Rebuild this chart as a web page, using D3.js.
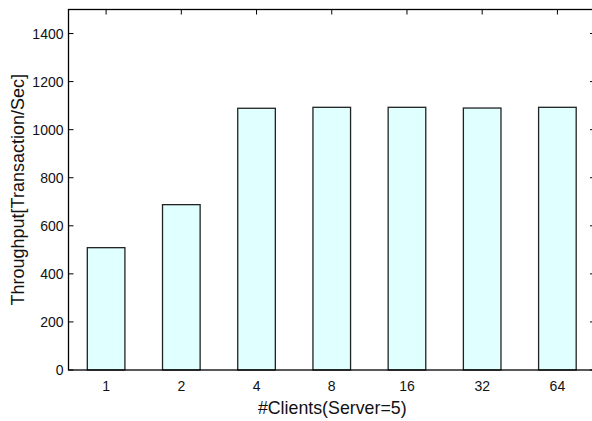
<!DOCTYPE html>
<html>
<head>
<meta charset="utf-8">
<script src="https://cdn.jsdelivr.net/npm/d3@7"></script>
<style>
  html, body { margin: 0; padding: 0; background: #fff; }
  svg { display: block; font-family: "Liberation Sans", Arial, Helvetica, sans-serif; }
</style>
</head>
<body>
<svg id="chart" width="592" height="421"></svg>
<script>
// Throughput measured for each client count (5 servers)
const clients = ["1", "2", "4", "8", "16", "32", "64"];
const throughput = [509, 688, 1089, 1093, 1093, 1090, 1093];
const yTicks = [0, 200, 400, 600, 800, 1000, 1200, 1400];

const svg = d3.select("#chart");
const plot = { left: 68.5, right: 595, top: 9.5, bottom: 370 };

const x = d3.scaleBand()
  .domain(clients)
  .range([plot.left, plot.right])
  .paddingInner(0.5)
  .paddingOuter(0.25);

const y = d3.scaleLinear()
  .domain([0, 1500])
  .range([plot.bottom, plot.top]);

const tickLen = 5;

// Inward ticks on all four sides
const g = svg.append("g");
g.selectAll("line.yl").data(yTicks).join("line")
  .attr("x1", plot.left).attr("x2", plot.left + tickLen)
  .attr("y1", d => y(d)).attr("y2", d => y(d))
  .attr("stroke", "#000").attr("stroke-width", 1);
g.selectAll("line.yr").data(yTicks).join("line")
  .attr("x1", plot.right).attr("x2", plot.right - tickLen)
  .attr("y1", d => y(d)).attr("y2", d => y(d))
  .attr("stroke", "#000").attr("stroke-width", 1);
g.selectAll("line.xt").data(clients).join("line")
  .attr("x1", d => x(d) + x.bandwidth() / 2).attr("x2", d => x(d) + x.bandwidth() / 2)
  .attr("y1", plot.top).attr("y2", plot.top + tickLen)
  .attr("stroke", "#000").attr("stroke-width", 1);
g.selectAll("line.xb").data(clients).join("line")
  .attr("x1", d => x(d) + x.bandwidth() / 2).attr("x2", d => x(d) + x.bandwidth() / 2)
  .attr("y1", plot.bottom).attr("y2", plot.bottom - tickLen)
  .attr("stroke", "#000").attr("stroke-width", 1);

// Bars
svg.append("g").selectAll("rect").data(clients).join("rect")
  .attr("x", d => x(d))
  .attr("y", (d, i) => y(throughput[i]))
  .attr("width", x.bandwidth())
  .attr("height", (d, i) => y(0) - y(throughput[i]))
  .attr("fill", "#e0ffff")
  .attr("stroke", "#222")
  .attr("stroke-width", 1.3);

// Frame
svg.append("rect")
  .attr("x", plot.left).attr("y", plot.top)
  .attr("width", plot.right - plot.left).attr("height", plot.bottom - plot.top)
  .attr("fill", "none").attr("stroke", "#000").attr("stroke-width", 1.3);

// Tick labels
svg.append("g").selectAll("text").data(yTicks).join("text")
  .attr("x", plot.left - 5)
  .attr("y", d => y(d))
  .attr("dy", "0.36em")
  .attr("text-anchor", "end")
  .attr("font-size", 14)
  .attr("fill", "#111")
  .text(d => d);

svg.append("g").selectAll("text").data(clients).join("text")
  .attr("x", d => x(d) + x.bandwidth() / 2)
  .attr("y", 390.5)
  .attr("text-anchor", "middle")
  .attr("font-size", 14)
  .attr("fill", "#111")
  .text(d => d);

// Axis titles
svg.append("text")
  .attr("x", (plot.left + 592) / 2 + 2)
  .attr("y", 413.5)
  .attr("text-anchor", "middle")
  .attr("font-size", 17.8)
  .attr("fill", "#111")
  .text("#Clients(Server=5)");

svg.append("text")
  .attr("transform", `translate(23.5,${(plot.top + plot.bottom) / 2}) rotate(-90)`)
  .attr("text-anchor", "middle")
  .attr("font-size", 18)
  .attr("fill", "#111")
  .text("Throughput[Transaction/Sec]");
</script>
</body>
</html>
